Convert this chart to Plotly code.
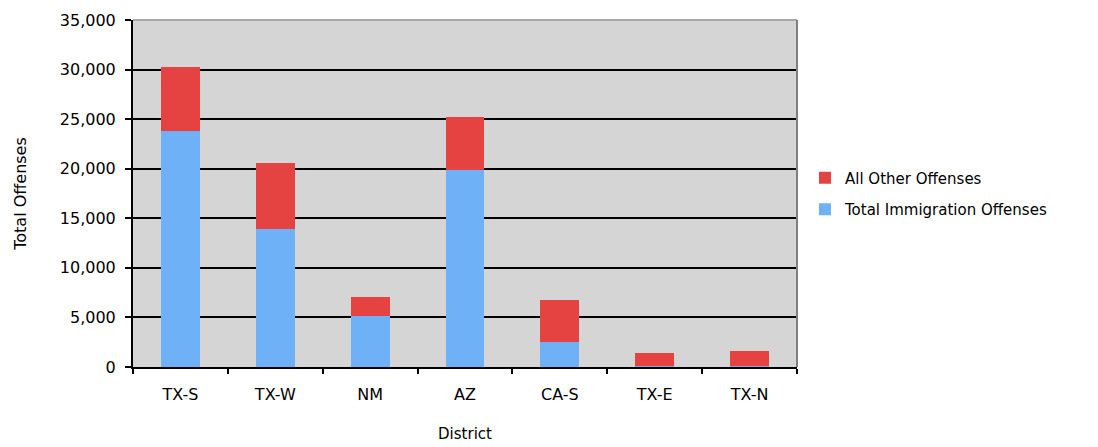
import plotly.graph_objects as go

districts = ["TX-S", "TX-W", "NM", "AZ", "CA-S", "TX-E", "TX-N"]
immigration = [23800, 13900, 5100, 19900, 2550, 80, 100]
other = [6450, 6650, 1950, 5350, 4200, 1300, 1500]
y_ticks = [0, 5000, 10000, 15000, 20000, 25000, 30000, 35000]

FONT = "DejaVu Sans"
BLUE = "#6fb1f7"
RED = "#e54242"

fig = go.Figure()
fig.add_trace(go.Bar(x=districts, y=immigration, name="Total Immigration Offenses",
                     marker=dict(color=BLUE, line=dict(width=0)), width=0.41,
                     legendgroup="imm", legendrank=2))
fig.add_trace(go.Bar(x=districts, y=other, name="All Other Offenses",
                     marker=dict(color=RED, line=dict(width=0)), width=0.41,
                     legendgroup="oth", legendrank=1))

fig.update_layout(
    barmode="stack",
    width=1090, height=439,
    margin=dict(l=125, r=301, t=12, b=80),
    paper_bgcolor="white",
    plot_bgcolor="#d5d5d5",
    font=dict(family=FONT, size=16, color="black"),
    showlegend=True,
    legend=dict(x=1.012, y=0.5, xanchor="left", yanchor="middle",
                traceorder="grouped", tracegroupgap=9, itemwidth=30,
                font=dict(size=15, family=FONT), bgcolor="rgba(0,0,0,0)"),
    xaxis=dict(showline=True, linecolor="black", linewidth=2, automargin=False,
               ticks="outside", tickson="boundaries", ticklen=5, tickcolor="black",
               tickwidth=2, showgrid=False, ticklabelstandoff=12,
               title=dict(text="District", font=dict(size=15), standoff=25),
               tickfont=dict(size=16)),
    yaxis=dict(range=[0, 35000], tickvals=y_ticks, tickformat=",", automargin=False,
               showline=True, linecolor="black", linewidth=2,
               ticks="outside", ticklen=6, tickcolor="black", tickwidth=2,
               showgrid=True, gridcolor="black", gridwidth=2, zeroline=False,
               ticklabelstandoff=6,
               title=dict(text="Total Offenses", font=dict(size=16), standoff=29),
               tickfont=dict(size=16)),
    bargap=0.59,
)
fig.add_shape(type="line", xref="paper", yref="paper", x0=0, x1=1, y0=1, y1=1,
              line=dict(color="#a8a8a8", width=2), layer="above")
fig.add_shape(type="line", xref="paper", yref="paper", x0=1, x1=1, y0=0, y1=1,
              line=dict(color="#808080", width=2), layer="above")

fig.write_html("out.html")
